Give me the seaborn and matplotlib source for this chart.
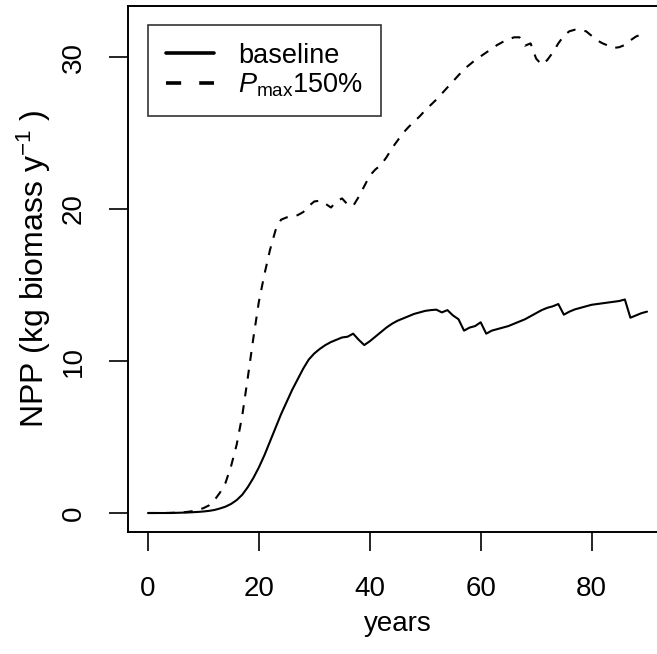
import numpy as np
import pandas as pd
import seaborn as sns
import matplotlib
matplotlib.use("Agg")
import matplotlib.pyplot as plt
from matplotlib.lines import Line2D

# NPP per year
years = list(range(0, 91))

baseline = [
    0.0, 0.0, 0.0, 0.0, 0.0, 0.01, 0.02, 0.03, 0.05, 0.07,
    0.1, 0.14, 0.2, 0.3, 0.42, 0.6, 0.85, 1.2, 1.7, 2.3,
    3.0, 3.8, 4.7, 5.6, 6.5, 7.3, 8.1, 8.8, 9.5, 10.1,
    10.5, 10.8, 11.05, 11.25, 11.4, 11.55, 11.6, 11.8, 11.4, 11.05,
    11.3, 11.6, 11.9, 12.2, 12.45, 12.65, 12.8, 12.95, 13.1, 13.2,
    13.3, 13.35, 13.38, 13.2, 13.35, 13.0, 12.75, 12.0, 12.2, 12.3,
    12.55, 11.8, 12.0, 12.1, 12.2, 12.3, 12.45, 12.6, 12.75, 12.95,
    13.15, 13.35, 13.5, 13.6, 13.75, 13.05, 13.25, 13.4, 13.5, 13.6,
    13.7, 13.75, 13.8, 13.85, 13.9, 13.95, 14.05, 12.85, 13.0, 13.15,
    13.25,
]

pmax150 = [
    0.0, 0.0, 0.0, 0.0, 0.01, 0.02, 0.04, 0.07, 0.12, 0.2,
    0.32, 0.5, 0.85, 1.35, 2.0, 3.1, 4.5, 6.4, 8.9, 11.5,
    13.9, 15.7, 17.3, 18.6, 19.3, 19.45, 19.5, 19.6, 19.8, 20.2,
    20.5, 20.55, 20.35, 20.1, 20.5, 20.7, 20.3, 20.2, 20.8, 21.5,
    22.2, 22.6, 22.9, 23.4, 24.0, 24.5, 25.0, 25.4, 25.75, 26.1,
    26.5, 26.85, 27.2, 27.6, 28.0, 28.4, 28.8, 29.2, 29.5, 29.8,
    30.05, 30.3, 30.55, 30.8, 31.0, 31.15, 31.3, 31.3, 30.75, 30.9,
    29.9, 29.5, 29.8, 30.3, 30.9, 31.4, 31.7, 31.8, 31.75, 31.7,
    31.4, 31.1, 30.9, 30.75, 30.6, 30.65, 30.8, 31.1, 31.35, 31.5,
    31.6,
]

x_ticks = [0, 20, 40, 60, 80]
y_ticks = [0, 10, 20, 30]

sns.set_theme(style="ticks")
plt.rcParams["font.family"] = ["Liberation Sans", "DejaVu Sans"]
plt.rcParams["mathtext.fontset"] = "custom"
plt.rcParams["mathtext.rm"] = "Liberation Sans"
plt.rcParams["mathtext.it"] = "Liberation Sans:italic"
plt.rcParams["text.color"] = "black"
plt.rcParams["axes.labelcolor"] = "black"

df = pd.DataFrame({"years": years, "baseline": baseline, "pmax": pmax150})

fig = plt.figure(figsize=(6.57, 6.54), dpi=100)
ax = fig.add_axes([128 / 657, 122 / 654, 539 / 657, 526 / 654])

sns.lineplot(data=df, x="years", y="baseline", ax=ax, color="black", lw=1.5)
sns.lineplot(data=df, x="years", y="pmax", ax=ax, color="black", lw=1.5,
             linestyle=(0, (4.3, 4.3)))

ax.set_xlim(-3.6, 93.6)
ax.set_ylim(-1.25, 33.36)
ax.set_xticks(x_ticks)
ax.set_yticks(y_ticks)
ax.set_yticklabels([str(v) for v in y_ticks], rotation=90, va="center")
ax.tick_params(direction="out", length=14, width=1.2, labelsize=20,
               colors="black")
ax.tick_params(axis="x", pad=17.5)
ax.tick_params(axis="y", pad=15.5)
for s in ax.spines.values():
    s.set_visible(True)
    s.set_color("black")
    s.set_linewidth(1.4)

ax.set_xlabel("years", fontsize=20, labelpad=7)
ax.set_ylabel("NPP (kg biomass y$^{-1}$ )", fontsize=23, labelpad=6)

handles = [
    Line2D([], [], color="black", lw=2.6),
    Line2D([], [], color="black", lw=2.6, linestyle=(0, (4.2, 5.0))),
]
labels = ["baseline", "$P_{\\rm max}$150%"]
leg = ax.legend(handles, labels, loc="upper left", fontsize=19.5,
                frameon=True, fancybox=False, edgecolor="black",
                bbox_to_anchor=(20 / 539, 1 - 19 / 526), borderaxespad=0,
                handlelength=1.77, labelspacing=0.1, handletextpad=0.9,
                borderpad=0.65)
leg.get_frame().set_linewidth(1.2)

fig.savefig("out.png", dpi=100)
